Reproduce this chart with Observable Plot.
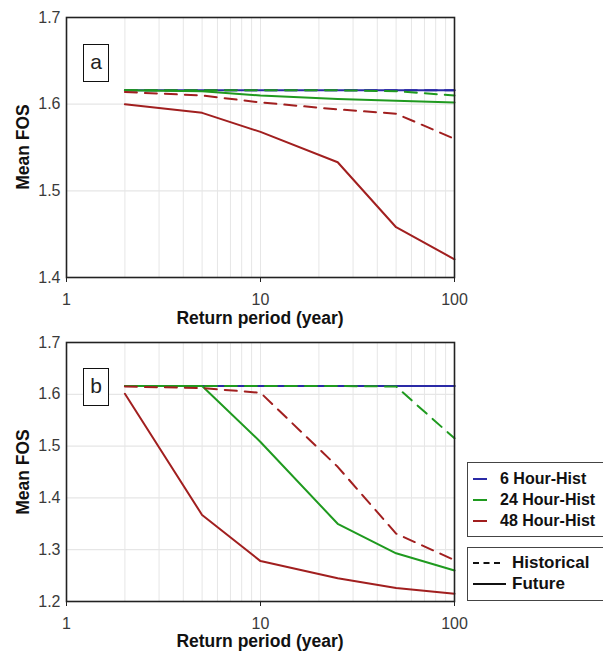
<!DOCTYPE html>
<html>
<head>
<meta charset="utf-8">
<script src="https://cdn.jsdelivr.net/npm/d3@7"></script>
<script src="https://cdn.jsdelivr.net/npm/@observablehq/plot@0.6"></script>
<style>
  body { margin: 0; background: #fff; font-family: "Liberation Sans", Arial, sans-serif; }
  #wrap { position: relative; width: 603px; height: 651px; overflow: hidden; }
  .panel { position: absolute; left: 0; }
  .xt { position: absolute; font-weight: bold; font-size: 17.5px; line-height: 1; color: #111; white-space: nowrap; transform: translate(-50%, -50%); }
  .yt { position: absolute; font-weight: bold; font-size: 17.5px; line-height: 1; color: #111; white-space: nowrap; transform: translate(-50%, -50%) rotate(-90deg); }
  .tag { position: absolute; border: 1.5px solid #111; width: 24px; height: 36px; font-size: 21px; line-height: 34px; text-align: center; color: #222; background: #fff; }
  .lg { position: absolute; border: 1.5px solid #444; background: #fff; font-weight: bold; font-size: 16px; color: #111; }
  .row { position: absolute; left: 5px; white-space: nowrap; display: flex; align-items: center; }
  .sw { display: inline-block; width: 14px; height: 0; border-top: 2px solid; margin-right: 13px; }
</style>
</head>
<body>
<div id="wrap"></div>
<script>
// Return periods (years)
const periods = [2, 5, 10, 25, 50, 100];

// Panel a values (Mean FOS)
const aHist6  = [1.616, 1.616, 1.616, 1.616, 1.616, 1.616];
const aFut6   = [1.616, 1.616, 1.616, 1.616, 1.616, 1.616];
const aHist24 = [1.616, 1.616, 1.616, 1.616, 1.615, 1.610];
const aFut24  = [1.616, 1.615, 1.610, 1.606, 1.604, 1.602];
const aHist48 = [1.614, 1.610, 1.602, 1.594, 1.589, 1.560];
const aFut48  = [1.600, 1.590, 1.568, 1.533, 1.458, 1.421];

// Panel b values (Mean FOS)
const bHist6  = [1.616, 1.616, 1.616, 1.616, 1.616, 1.616];
const bFut6   = [1.616, 1.616, 1.616, 1.616, 1.616, 1.616];
const bHist24 = [1.616, 1.616, 1.616, 1.616, 1.615, 1.515];
const bFut24  = [1.616, 1.616, 1.508, 1.350, 1.293, 1.260];
const bHist48 = [1.615, 1.612, 1.603, 1.460, 1.331, 1.280];
const bFut48  = [1.601, 1.367, 1.278, 1.245, 1.226, 1.215];

const seriesNames = ["6 Hour-Hist", "24 Hour-Hist", "48 Hour-Hist"];
const seriesColors = ["#2a2aa6", "#1f9a1f", "#a11f1f"];
const styleNames = ["Historical", "Future"];

const xMajor = [1, 10, 100];
const xMinor = [2, 3, 4, 5, 6, 7, 8, 9, 10, 20, 30, 40, 50, 60, 70, 80, 90];
const aYTicks = [1.4, 1.5, 1.6, 1.7];
const bYTicks = [1.2, 1.3, 1.4, 1.5, 1.6, 1.7];

function rows(vals) { return periods.map((p, i) => ({p, v: vals[i]})); }

function panel(sets, yDomain, yTicks, height, mTop, mBottom) {
  const marks = [
    Plot.ruleX(xMinor, {stroke: "#e6e6e6", strokeWidth: 1}),
    Plot.ruleY(yTicks, {stroke: "#e6e6e6", strokeWidth: 1.2})
  ];
  sets.forEach(([vals, ci, dashed]) => {
    marks.push(Plot.line(rows(vals), {
      x: "p", y: "v", stroke: seriesColors[ci], strokeWidth: 2,
      strokeDasharray: dashed ? "12,8" : null
    }));
  });
  marks.push(Plot.frame({stroke: "#222", strokeWidth: 1.6}));
  marks.push(Plot.axisX(xMajor, {tickSize: 5, tickPadding: 11, tickFormat: d => String(d), label: null, stroke: "#222"}));
  marks.push(Plot.axisY(yTicks, {tickSize: 0, tickPadding: 6, tickFormat: d => d.toFixed(1), label: null}));
  return Plot.plot({
    width: 470, height, marginLeft: 66, marginRight: 16, marginTop: mTop, marginBottom: mBottom,
    x: {type: "log", domain: [1, 100]},
    y: {domain: yDomain},
    style: {fontFamily: "'Liberation Sans', Arial, sans-serif", fontSize: "16px", color: "#3a3a3a", background: "transparent"},
    marks
  });
}

const wrap = document.getElementById("wrap");

const pa = panel([
  [aHist6, 0, true], [aFut6, 0, false],
  [aHist24, 1, true], [aFut24, 1, false],
  [aHist48, 2, true], [aFut48, 2, false]
], [1.4, 1.7], aYTicks, 325, 17, 48);
pa.classList.add("panel"); pa.style.top = "0px";
wrap.appendChild(pa);

const pb = panel([
  [bHist6, 0, true], [bFut6, 0, false],
  [bHist24, 1, true], [bFut24, 1, false],
  [bHist48, 2, true], [bFut48, 2, false]
], [1.2, 1.7], bYTicks, 326, 17, 50);
pb.classList.add("panel"); pb.style.top = "325px";
wrap.appendChild(pb);

function addDiv(cls, html, css) {
  const d = document.createElement("div");
  d.className = cls; d.innerHTML = html;
  Object.assign(d.style, css);
  wrap.appendChild(d);
  return d;
}

addDiv("xt", "Return period (year)", {left: "260px", top: "319px"});
addDiv("xt", "Return period (year)", {left: "260px", top: "642px"});
addDiv("yt", "Mean FOS", {left: "24px", top: "147px"});
addDiv("yt", "Mean FOS", {left: "24px", top: "472px"});
addDiv("tag", "a", {left: "83px", top: "44px"});
addDiv("tag", "b", {left: "83px", top: "368px"});

// Legend 1: series colours
const lg1 = addDiv("lg", "", {left: "467px", top: "462px", width: "140px", height: "73px"});
seriesNames.forEach((name, i) => {
  const r = document.createElement("div");
  r.className = "row";
  r.style.top = (7 + i * 21) + "px";
  r.innerHTML = `<span class="sw" style="border-top-color:${seriesColors[i]}"></span>${name}`;
  lg1.appendChild(r);
});

// Legend 2: line styles
const lg2 = addDiv("lg", "", {left: "467px", top: "547px", width: "140px", height: "52px", fontSize: "17px"});
styleNames.forEach((name, i) => {
  const r = document.createElement("div");
  r.className = "row";
  r.style.top = (5 + i * 21) + "px";
  const sw = i === 0
    ? `<span style="display:inline-block;width:27px;height:0;border-top:2.5px dashed #111;margin-right:12px"></span>`
    : `<span style="display:inline-block;width:33px;height:0;border-top:2px solid #111;margin-right:6px"></span>`;
  r.innerHTML = sw + name;
  lg2.appendChild(r);
});
</script>
</body>
</html>
